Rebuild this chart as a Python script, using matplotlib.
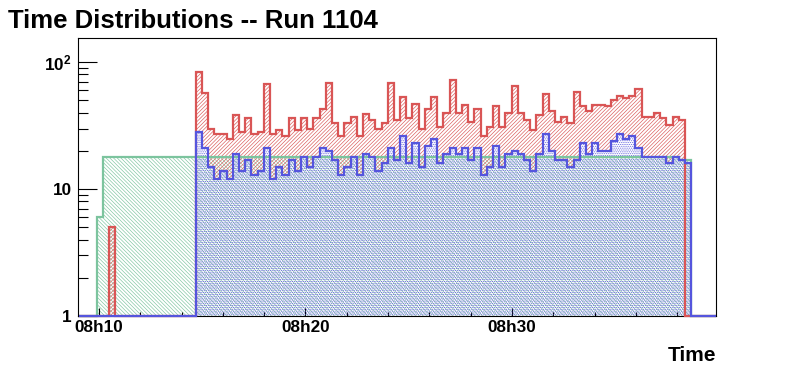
import numpy as np
import matplotlib
matplotlib.use("Agg")
import matplotlib.pyplot as plt
from matplotlib.ticker import FixedLocator, FuncFormatter, MultipleLocator, LogLocator, NullFormatter

# ---------------- data ----------------
title = "Time Distributions -- Run 1104"
xlabel = "Time"
t_start = 8 * 3600 + 8 * 60 + 59     # 08h08:59 (seconds since midnight)
bin_width = 18                       # seconds
n_bins = 103

# red histogram: an isolated bin, then a contiguous block
red_spike_index = 5
red_spike_count = 5
red_block_start = 19
red_counts = [84, 57, 30, 27, 27, 25, 38, 28, 36, 27, 28, 67, 27, 29, 26, 36, 29, 36, 30, 36,
              43, 68, 33, 26, 33, 37, 26, 39, 35, 30, 33, 68, 35, 53, 36, 47, 30, 43, 53, 31,
              40, 72, 40, 46, 34, 43, 26, 31, 45, 31, 40, 65, 40, 35, 29, 38, 56, 41, 34, 37,
              33, 58, 45, 41, 46, 46, 45, 50, 54, 52, 54, 61, 37, 37, 40, 36, 32, 37, 35]

# blue histogram
blue_block_start = 19
blue_counts = [28, 21, 15, 12, 14, 12, 19, 14, 17, 13, 14, 21, 12, 15, 13, 17, 14, 18, 15, 18,
               21, 20, 17, 13, 15, 18, 13, 19, 18, 14, 16, 21, 17, 26, 16, 23, 15, 22, 25, 16,
               19, 21, 19, 21, 17, 21, 13, 15, 22, 15, 19, 20, 19, 17, 14, 19, 27, 20, 17, 17,
               15, 17, 23, 19, 23, 20, 20, 24, 27, 25, 26, 21, 18, 18, 18, 18, 16, 18, 17, 16]

# green histogram
green_block_start = 3
green_counts = [6] + [18] * 93 + [17, 17]

# ---------------- styling ----------------
plt.rcParams['font.family'] = ['Liberation Sans', 'DejaVu Sans']
plt.rcParams['font.weight'] = 'bold'
plt.rcParams['mathtext.fontset'] = 'custom'
plt.rcParams['mathtext.rm'] = 'Liberation Sans:bold'
plt.rcParams['mathtext.bf'] = 'Liberation Sans:bold'
plt.rcParams['mathtext.it'] = 'Liberation Sans:bold'
plt.rcParams['hatch.linewidth'] = 0.45

RED = '#d95555'
BLUE = '#5555dd'
GREEN = '#7cc49e'

edges = t_start + bin_width * np.arange(n_bins + 1)

def full(start, counts):
    v = np.zeros(n_bins)
    v[start:start + len(counts)] = counts
    return v

green = full(green_block_start, green_counts)
red = full(red_block_start, red_counts)
red[red_spike_index] = red_spike_count
blue = full(blue_block_start, blue_counts)

ymin, ymax = 1.0, 155.0
g_v = np.where(green > 0, green, ymin)
r_v = np.where(red > 0, red, ymin)
b_v = np.where(blue > 0, blue, ymin)

fig = plt.figure(figsize=(7.96, 3.72), dpi=100)
ax = fig.add_axes([78 / 796, 1 - 316 / 372, (716 - 78) / 796, (316 - 38) / 372])
ax.set_yscale('log')

# hatched fills (red shown only above the blue histogram)
ax.stairs(g_v, edges, baseline=ymin, fill=True, facecolor='none', edgecolor=GREEN,
          hatch='\\' * 9, linewidth=0, zorder=1)
ax.stairs(r_v, edges, baseline=np.minimum(np.maximum(b_v, ymin), r_v), fill=True, facecolor='none',
          edgecolor=RED, hatch='/' * 9, linewidth=0, zorder=2)
ax.stairs(b_v, edges, baseline=ymin, fill=True, facecolor='none', edgecolor=BLUE,
          hatch='.' * 9, linewidth=0, zorder=3)

# outlines
for v, col, z in [(g_v, GREEN, 6), (r_v, RED, 7), (b_v, BLUE, 8)]:
    ax.stairs(v, edges, baseline=ymin, fill=False, color=col, linewidth=1.6,
              zorder=z, clip_on=False)

ax.set_xlim(edges[0], edges[-1])
ax.set_ylim(ymin, ymax)

def fmt_time(x, pos=None):
    s = int(round(x))
    return f"{s // 3600:02d}h{(s % 3600) // 60:02d}"

ax.xaxis.set_major_locator(FixedLocator([8 * 3600 + 10 * 60, 8 * 3600 + 20 * 60, 8 * 3600 + 30 * 60]))
ax.xaxis.set_major_formatter(FuncFormatter(fmt_time))
ax.xaxis.set_minor_locator(MultipleLocator(120))

ax.yaxis.set_major_locator(FixedLocator([1, 10, 100]))
ax.yaxis.set_major_formatter(FuncFormatter(lambda y, p: {1: '1', 10: '10', 100: r'$10^{2}$'}.get(int(round(y)), '')))
ax.yaxis.set_minor_locator(LogLocator(base=10, subs=np.arange(2, 10)))
ax.yaxis.set_minor_formatter(NullFormatter())

ax.tick_params(axis='y', which='major', direction='in', length=13.5, width=0.8, labelsize=12.3, pad=4.5)
ax.tick_params(axis='y', which='minor', direction='in', length=7, width=0.8)
ax.tick_params(axis='x', which='major', direction='in', length=5.8, width=0.8, labelsize=12.3, pad=3)
ax.tick_params(axis='x', which='minor', direction='in', length=3, width=0.8)
for name, sp in ax.spines.items():
    sp.set_linewidth(0.8)
    sp.set_zorder(5 if name == 'bottom' else 20)

fig.text(8 / 796, 1 - 28 / 372, title, fontsize=18.5, fontweight='bold', ha='left', va='baseline')
fig.text(716 / 796, 1 - 361 / 372, xlabel, fontsize=15, fontweight='bold', ha='right', va='baseline')

fig.savefig('out.png', dpi=100)
